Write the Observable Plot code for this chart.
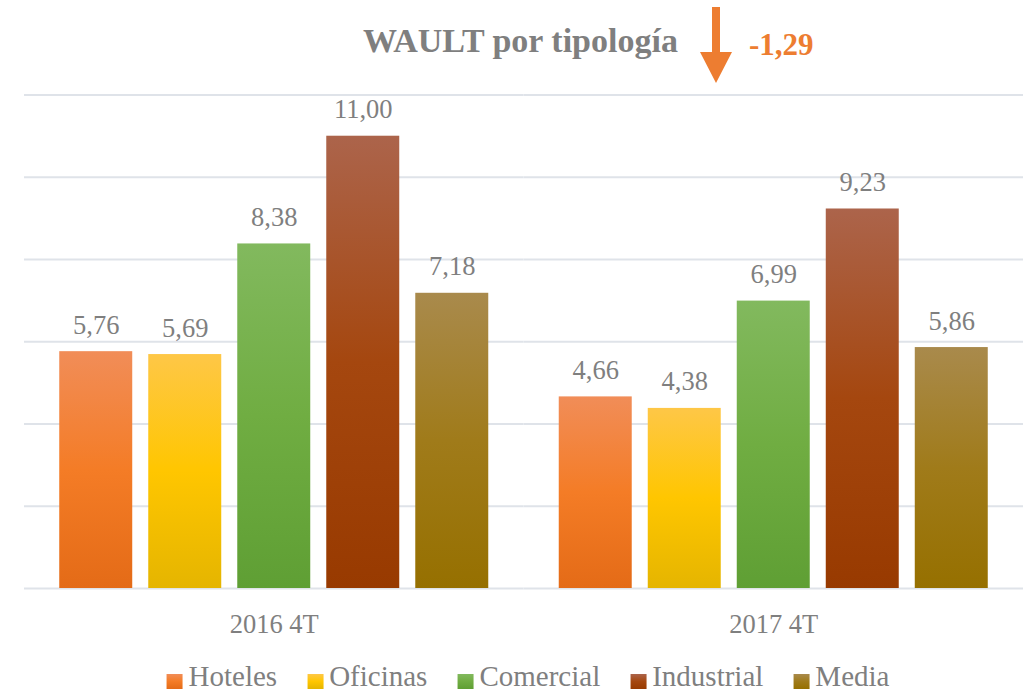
<!DOCTYPE html>
<html>
<head>
<meta charset="utf-8">
<script src="https://cdn.jsdelivr.net/npm/d3@7"></script>
<script src="https://cdn.jsdelivr.net/npm/@observablehq/plot@0.6"></script>
<style>
  html, body { margin: 0; padding: 0; background: #fff; }
  body { width: 1027px; height: 693px; position: relative; overflow: hidden; font-family: "Liberation Serif", "DejaVu Serif", serif; }
  #header { position: relative; height: 80px; }
  #title { position: absolute; left: 363px; top: 0; font-weight: bold; font-size: 34px; color: #7f7f7f; line-height: 1; }
  #change { position: absolute; left: 749px; font-weight: bold; font-size: 31px; color: #ed7d31; line-height: 1; }
  #arrow { position: absolute; left: 0; top: 0; }
  #chart svg { display: block; }
  #legend { position: absolute; top: 662px; left: 528px; transform: translateX(-50%); display: flex; align-items: flex-end; white-space: nowrap; font-size: 29px; color: #7f7f7f; height: 31px; }
  .item { display: flex; align-items: flex-end; margin-right: 30px; }
  .item:last-child { margin-right: 0; }
  .sw { width: 16px; height: 15px; margin-right: 6px; margin-bottom: 4px; }
  .lab { line-height: 1; padding-bottom: 2px; }
</style>
</head>
<body>
<div id="header"></div>
<div id="chart"></div>
<div id="legend"></div>
<script>
// ---- data ----
const title = "WAULT por tipología";
const change = "-1,29";
const groups = ["2016 4T", "2017 4T"];
const categories = ["Hoteles", "Oficinas", "Comercial", "Industrial", "Media"];
const values2016 = [5.76, 5.69, 8.38, 11.00, 7.18];
const values2017 = [4.66, 4.38, 6.99, 9.23, 5.86];
const gridTicks = [0, 2, 4, 6, 8, 10, 12];

// gradient stops per category (top, middle, bottom)
const gradients = [
  ["#f18d58", "#f47c26", "#e46b17"],
  ["#fec747", "#ffc600", "#e5b500"],
  ["#82b95e", "#70ad42", "#5f9f34"],
  ["#ac644b", "#a5470f", "#983a00"],
  ["#a98a4c", "#a07b1a", "#967000"]
];

const data = [];
groups.forEach((g, gi) => {
  const vals = gi === 0 ? values2016 : values2017;
  categories.forEach((c, ci) => data.push({group: g, cat: c, value: vals[ci]}));
});
const fmt = v => v.toFixed(2).replace(".", ",");
const FONT = "'Liberation Serif', 'DejaVu Serif', serif";

// ---- header ----
const header = document.getElementById("header");
header.innerHTML = `
<svg id="arrow" width="1027" height="90" style="position:absolute;left:0;top:0;overflow:visible">
  <polygon points="712,7 720,7 720,52 732,52 716,83 700,52 712,52" fill="#ed7d31"/>
</svg>
<div id="title">${title}</div>
<div id="change">${change}</div>`;
const t = document.getElementById("title");
t.style.top = (54 - 34 * 0.89) + "px";
const ch = document.getElementById("change");
ch.style.top = (57 - 31 * 0.89) + "px";

// ---- chart ----
const marks = [
  Plot.gridY(gridTicks, {stroke: "#dfe3e9", strokeOpacity: 1, strokeWidth: 2}),
  ...categories.map((c, i) => Plot.barY(data.filter(d => d.cat === c), {
    fx: "group", x: "cat", y: "value", fill: `url(#grad${i})`
  })),
  Plot.text(data, {
    fx: "group", x: "cat", y: "value", text: d => fmt(d.value),
    dy: -18, lineAnchor: "bottom", fontSize: 26.5, fill: "#7f7f7f", fontFamily: FONT
  }),
  Plot.axisFx({anchor: "bottom", tickSize: 0, tickPadding: 26, fontSize: 26.5, fill: "#7f7f7f", label: null, fontFamily: FONT})
];

const plot = Plot.plot({
  width: 1027,
  height: 580,
  marginTop: 14.6,
  marginBottom: 72,
  marginLeft: 24,
  marginRight: 4,
  style: {fontFamily: FONT, color: "#7f7f7f", background: "white"},
  fx: {domain: groups, padding: 0, round: false, label: null},
  x: {domain: categories, paddingInner: 0.18, paddingOuter: 0.396, round: false, axis: null},
  y: {domain: [0, 12], axis: null},
  marks
});

const svg = d3.select(plot.tagName.toLowerCase() === "svg" ? plot : plot.querySelector("svg"));
const defs = svg.insert("defs", ":first-child");
gradients.forEach((stops, i) => {
  const lg = defs.append("linearGradient").attr("id", `grad${i}`)
    .attr("x1", 0).attr("y1", 0).attr("x2", 0).attr("y2", 1);
  lg.append("stop").attr("offset", "0%").attr("stop-color", stops[0]);
  lg.append("stop").attr("offset", "50%").attr("stop-color", stops[1]);
  lg.append("stop").attr("offset", "100%").attr("stop-color", stops[2]);
});
document.getElementById("chart").appendChild(plot);

// ---- legend ----
const legend = document.getElementById("legend");
categories.forEach((c, i) => {
  const g = gradients[i];
  const item = document.createElement("div");
  item.className = "item";
  item.innerHTML = `<div class="sw" style="background:linear-gradient(to bottom, ${g[0]}, ${g[1]} 50%, ${g[2]})"></div><div class="lab">${c}</div>`;
  legend.appendChild(item);
});
</script>
</body>
</html>
